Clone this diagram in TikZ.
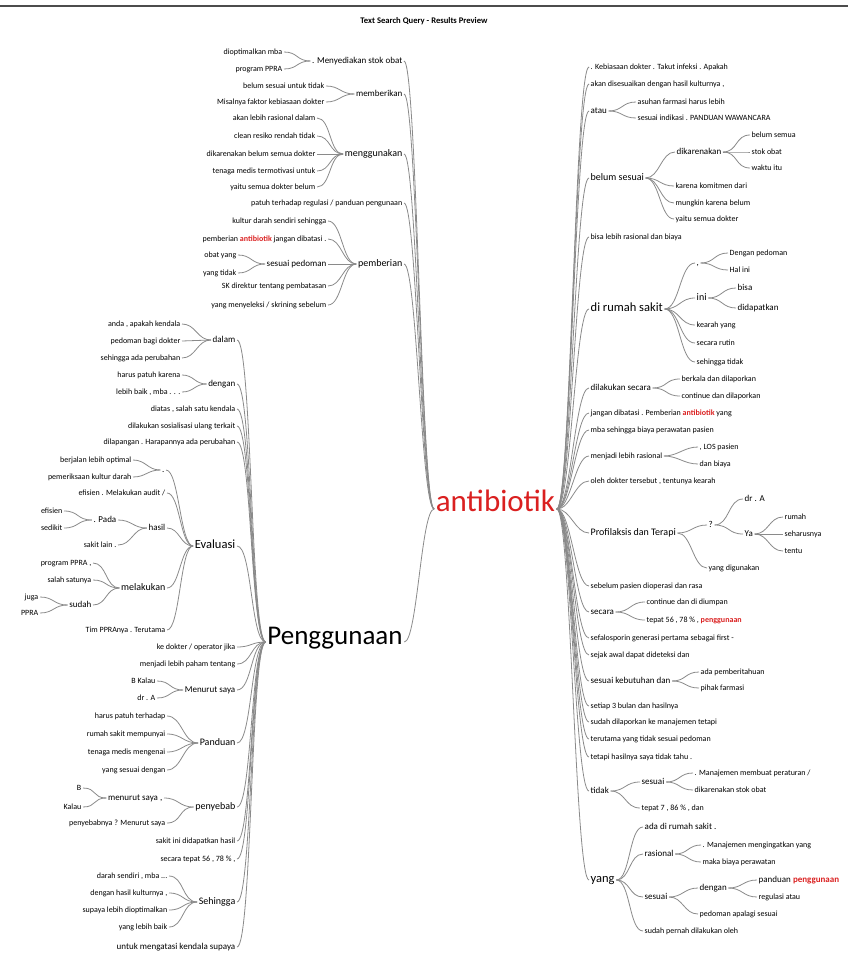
\documentclass[tikz,border=0pt]{standalone}
\usepackage{fontspec}
\setmainfont{Carlito}
\usetikzlibrary{calc}
\definecolor{hit}{RGB}{218,32,32}
\definecolor{twiggray}{RGB}{138,138,138}
\tikzset{
  lw/.style={anchor=mid east, inner xsep=1.5pt, inner ysep=0pt},
  rw/.style={anchor=mid west, inner xsep=1.5pt, inner ysep=0pt},
  w1/.style={font=\fontsize{8}{9}\selectfont},
  w2/.style={font=\fontsize{9}{10}\selectfont},
  w3/.style={font=\fontsize{10}{11}\selectfont},
  w4/.style={font=\fontsize{12.5}{14}\selectfont},
  twig/.style={draw=twiggray, line width=0.8pt},
}
\newcommand{\hit}[1]{\textcolor{hit}{\textbf{#1}}}
\newcommand{\branchL}[3]{\draw[twig] (#2.mid west) .. controls +(-#1,0) and +(#1,0) .. (#3.mid east);}
\newcommand{\branchR}[3]{\draw[twig] (#2.mid east) .. controls +(#1,0) and +(-#1,0) .. (#3.mid west);}

\begin{document}
\begin{tikzpicture}[x=1pt,y=-1pt]
		%%%%% START %%%%%
		\useasboundingbox (0,0) rectangle (848,957);
		\draw[black!70, line width=1.2pt] (0,6) -- (848,6);
		\node[font=\bfseries\fontsize{8.6}{10}\selectfont] (ttl) at (424,21) {Text Search Query - Results Preview};
		
		% roots
		\node[anchor=mid, inner sep=1.5pt, font=\fontsize{31}{34}\selectfont, text=hit] (abt) at (495.5,509) {antibiotik};
		\node[anchor=mid, inner sep=1.5pt, font=\fontsize{27}{30}\selectfont] (png) at (335,642) {Penggunaan};
		
		% left of antibiotik
		\node[lw,w2] (mst) at (404,61) {. Menyediakan stok obat};
		\node[lw,w1] (mst1) at (284,52) {dioptimalkan mba};
		\node[lw,w1] (mst2) at (284,69) {program PPRA};
		\node[lw,w2] (mbr) at (404,94) {memberikan};
		\node[lw,w1] (mbr1) at (326,86) {belum sesuai untuk tidak};
		\node[lw,w1] (mbr2) at (326,102) {Misalnya faktor kebiasaan dokter};
		\node[lw,w3] (mgn) at (404,154) {menggunakan};
		\node[lw,w1] (mgn1) at (317,118) {akan lebih rasional dalam};
		\node[lw,w1] (mgn2) at (317,136) {clean resiko rendah tidak};
		\node[lw,w1] (mgn3) at (317,154) {dikarenakan belum semua dokter};
		\node[lw,w1] (mgn4) at (317,171) {tenaga medis termotivasi untuk};
		\node[lw,w1] (mgn5) at (317,187) {yaitu semua dokter belum};
		\node[lw,w1] (pth) at (404,203) {patuh terhadap regulasi / panduan pengunaan};
		\node[lw,w3] (pmb) at (404,264) {pemberian};
		\node[lw,w1] (pmb1) at (328,221) {kultur darah sendiri sehingga};
		\node[lw,w1] (pmb2) at (328,239) {pemberian \hit{antibiotik} jangan dibatasi .};
		\node[lw,w2] (spd) at (328,264) {sesuai pedoman};
		\node[lw,w1] (spd1) at (238,255) {obat yang};
		\node[lw,w1] (spd2) at (238,273) {yang tidak};
		\node[lw,w1] (pmb4) at (328,286) {SK direktur tentang pembatasan};
		\node[lw,w1] (pmb5) at (328,305) {yang menyeleksi / skrining sebelum};
		
		\foreach \k in {mst,mbr,mgn,pth,pmb,png} {\branchL{13}{abt}{\k}}
		\foreach \k in {mst1,mst2} {\branchL{14}{mst}{\k}}
		\foreach \k in {mbr1,mbr2} {\branchL{14}{mbr}{\k}}
		\foreach \k in {mgn1,mgn2,mgn3,mgn4,mgn5} {\branchL{14}{mgn}{\k}}
		\foreach \k in {pmb1,pmb2,spd,pmb4,pmb5} {\branchL{14}{pmb}{\k}}
		\foreach \k in {spd1,spd2} {\branchL{14}{spd}{\k}}
		
		% left of Penggunaan
		\node[lw,w2] (dlm) at (237,340) {dalam};
		\node[lw,w1] (dlm1) at (182,324) {anda , apakah kendala};
		\node[lw,w1] (dlm2) at (182,341) {pedoman bagi dokter};
		\node[lw,w1] (dlm3) at (182,358) {sehingga ada perubahan};
		\node[lw,w2] (dgn) at (237,384) {dengan};
		\node[lw,w1] (dgn1) at (182,375) {harus patuh karena};
		\node[lw,w1] (dgn2) at (182,392) {lebih baik , mba . . .};
		\node[lw,w1] (dts) at (237,409) {diatas , salah satu kendala};
		\node[lw,w1] (dsu) at (237,426) {dilakukan sosialisasi ulang terkait};
		\node[lw,w1] (dlp) at (237,442) {dilapangan . Harapannya ada perubahan};
		\node[lw,w4] (evl) at (237,546) {Evaluasi};
		\node[lw,w2] (ev1) at (166,470) {.};
		\node[lw,w1] (ev1a) at (133,460) {berjalan lebih optimal};
		\node[lw,w1] (ev1b) at (133,477) {pemeriksaan kultur darah};
		\node[lw,w1] (ev2) at (167,493) {efisien . Melakukan audit /};
		\node[lw,w2] (hsl) at (167,528) {hasil};
		\node[lw,w2] (pda) at (118,520) {. Pada};
		\node[lw,w1] (pda1) at (64,511) {efisien};
		\node[lw,w1] (pda2) at (64,528) {sedikit};
		\node[lw,w1] (hsl2) at (118,545) {sakit lain .};
		\node[lw,w3] (mlk) at (167,588) {melakukan};
		\node[lw,w1] (mlk1) at (93,563) {program PPRA ,};
		\node[lw,w1] (mlk2) at (93,580) {salah satunya};
		\node[lw,w2] (sdh) at (93,605) {sudah};
		\node[lw,w1] (sdh1) at (40,597) {juga};
		\node[lw,w1] (sdh2) at (40,613) {PPRA};
		\node[lw,w1] (tim) at (167,630) {Tim PPRAnya . Terutama};
		\node[lw,w1] (kdk) at (237,647) {ke dokter / operator jika};
		\node[lw,w1] (mjd) at (237,664) {menjadi lebih paham tentang};
		\node[lw,w2] (mns) at (237,690) {Menurut saya};
		\node[lw,w1] (mns1) at (157,681) {B Kalau};
		\node[lw,w1] (mns2) at (157,698) {dr . A};
		\node[lw,w3] (pnd) at (237,743) {Panduan};
		\node[lw,w1] (pnd1) at (167,716) {harus patuh terhadap};
		\node[lw,w1] (pnd2) at (167,734) {rumah sakit mempunyai};
		\node[lw,w1] (pnd3) at (167,752) {tenaga medis mengenai};
		\node[lw,w1] (pnd4) at (167,770) {yang sesuai dengan};
		\node[lw,w3] (pyb) at (237,807) {penyebab};
		\node[lw,w2] (mrs) at (164,798) {menurut saya ,};
		\node[lw,w1] (mrs1) at (83,788) {B};
		\node[lw,w1] (mrs2) at (83,807) {Kalau};
		\node[lw,w1] (pyb2) at (167,823) {penyebabnya ? Menurut saya};
		\node[lw,w1] (sid) at (237,841) {sakit ini didapatkan hasil};
		\node[lw,w1] (stp) at (237,859) {secara tepat 56 , 78 \% ,};
		\node[lw,w3] (shg) at (237,902) {Sehingga};
		\node[lw,w1] (shg1) at (169,876) {darah sendiri , mba ...};
		\node[lw,w1] (shg2) at (169,893) {dengan hasil kulturnya ,};
		\node[lw,w1] (shg3) at (169,910) {supaya lebih dioptimalkan};
		\node[lw,w1] (shg4) at (169,927) {yang lebih baik};
		\node[lw,w2] (utk) at (237,947) {untuk mengatasi kendala supaya};
		
		\foreach \k in {dlm,dgn,dts,dsu,dlp,evl,kdk,mjd,mns,pnd,pyb,sid,stp,shg,utk} {\branchL{15}{png}{\k}}
		\foreach \k in {dlm1,dlm2,dlm3} {\branchL{14}{dlm}{\k}}
		\foreach \k in {dgn1,dgn2} {\branchL{12}{dgn}{\k}}
		\foreach \k in {ev1,ev2,hsl,mlk,tim} {\branchL{13}{evl}{\k}}
		\foreach \k in {ev1a,ev1b} {\branchL{13}{ev1}{\k}}
		\foreach \k in {pda,hsl2} {\branchL{14}{hsl}{\k}}
		\foreach \k in {pda1,pda2} {\branchL{15}{pda}{\k}}
		\foreach \k in {mlk1,mlk2,sdh} {\branchL{14}{mlk}{\k}}
		\foreach \k in {sdh1,sdh2} {\branchL{14}{sdh}{\k}}
		\foreach \k in {mns1,mns2} {\branchL{14}{mns}{\k}}
		\foreach \k in {pnd1,pnd2,pnd3,pnd4} {\branchL{15}{pnd}{\k}}
		\foreach \k in {mrs,pyb2} {\branchL{15}{pyb}{\k}}
		\foreach \k in {mrs1,mrs2} {\branchL{14}{mrs}{\k}}
		\foreach \k in {shg1,shg2,shg3,shg4} {\branchL{15}{shg}{\k}}
		
		% right of antibiotik
		\node[rw,w1] (kbs) at (589,67) {. Kebiasaan dokter . Takut infeksi . Apakah};
		\node[rw,w1] (akd) at (589,84) {akan disesuaikan dengan hasil kulturnya ,};
		\node[rw,w2] (ata) at (589,111) {atau};
		\node[rw,w1] (ata1) at (636,102) {asuhan farmasi harus lebih};
		\node[rw,w1] (ata2) at (636,118) {sesuai indikasi . PANDUAN WAWANCARA};
		\node[rw,w3] (bls) at (589,178) {belum sesuai};
		\node[rw,w2] (dkr) at (675,152) {dikarenakan};
		\node[rw,w1] (dkr1) at (750,135) {belum semua};
		\node[rw,w1] (dkr2) at (750,152) {stok obat};
		\node[rw,w1] (dkr3) at (750,168) {waktu itu};
		\node[rw,w1] (bls2) at (674,186) {karena komitmen dari};
		\node[rw,w1] (bls3) at (674,203) {mungkin karena belum};
		\node[rw,w1] (bls4) at (674,219) {yaitu semua dokter};
		\node[rw,w1] (blr) at (589,237) {bisa lebih rasional dan biaya};
		\node[rw,w4] (drs) at (589,309) {di rumah sakit};
		\node[rw,w2] (kom) at (695,263) {,};
		\node[rw,w1] (kom1) at (728,253) {Dengan pedoman};
		\node[rw,w1] (kom2) at (728,270) {Hal ini};
		\node[rw,w3] (ini) at (695,298) {ini};
		\node[rw,w2] (ini1) at (736,288) {bisa};
		\node[rw,w2] (ini2) at (736,308) {didapatkan};
		\node[rw,w1] (drs3) at (695,325) {kearah yang};
		\node[rw,w1] (drs4) at (695,343) {secara rutin};
		\node[rw,w1] (drs5) at (695,362) {sehingga tidak};
		\node[rw,w2] (dls) at (589,388) {dilakukan secara};
		\node[rw,w1] (dls1) at (680,379) {berkala dan dilaporkan};
		\node[rw,w1] (dls2) at (680,396) {continue dan dilaporkan};
		\node[rw,w1] (jdb) at (589,413) {jangan dibatasi . Pemberian \hit{antibiotik} yang};
		\node[rw,w1] (mbs) at (589,430) {mba sehingga biaya perawatan pasien};
		\node[rw,w1] (mlr) at (589,456) {menjadi lebih rasional};
		\node[rw,w1] (mlr1) at (698,447) {, LOS pasien};
		\node[rw,w1] (mlr2) at (698,464) {dan biaya};
		\node[rw,w1] (odt) at (589,481) {oleh dokter tersebut , tentunya kearah};
		\node[rw,w3] (pdt) at (589,533) {Profilaksis dan Terapi};
		\node[rw,w2] (qst) at (707,525) {?};
		\node[rw,w2] (dra) at (743,499) {dr . A};
		\node[rw,w2] (ya) at (743,534) {Ya};
		\node[rw,w1] (ya1) at (783,517) {rumah};
		\node[rw,w1] (ya2) at (783,534) {seharusnya};
		\node[rw,w1] (ya3) at (783,551) {tentu};
		\node[rw,w1] (ydg) at (707,568) {yang digunakan};
		\node[rw,w1] (sbp) at (589,586) {sebelum pasien dioperasi dan rasa};
		\node[rw,w2] (scr) at (589,612) {secara};
		\node[rw,w1] (scr1) at (645,602) {continue dan di diumpan};
		\node[rw,w1] (scr2) at (645,620) {tepat 56 , 78 \% , \hit{penggunaan}};
		\node[rw,w1] (sfl) at (589,638) {sefalosporin generasi pertama sebagai first -};
		\node[rw,w1] (sjk) at (589,655) {sejak awal dapat dideteksi dan};
		\node[rw,w2] (skd) at (589,681) {sesuai kebutuhan dan};
		\node[rw,w1] (skd1) at (699,672) {ada pemberitahuan};
		\node[rw,w1] (skd2) at (699,688) {pihak farmasi};
		\node[rw,w1] (stb) at (589,706) {setiap 3 bulan dan hasilnya};
		\node[rw,w1] (sdl) at (589,722) {sudah dilaporkan ke manajemen tetapi};
		\node[rw,w1] (trt) at (589,739) {terutama yang tidak sesuai pedoman};
		\node[rw,w1] (tht) at (589,757) {tetapi hasilnya saya tidak tahu .};
		\node[rw,w2] (tdk) at (589,791) {tidak};
		\node[rw,w2] (tss) at (640,782) {sesuai};
		\node[rw,w1] (tss1) at (693,773) {. Manajemen membuat peraturan /};
		\node[rw,w1] (tss2) at (693,790) {dikarenakan stok obat};
		\node[rw,w1] (tdk2) at (640,808) {tepat 7 , 86 \% , dan};
		\node[rw,w4] (yng) at (589,880) {yang};
		\node[rw,w2] (yng1) at (643,827) {ada di rumah sakit .};
		\node[rw,w2] (rsn) at (643,854) {rasional};
		\node[rw,w1] (rsn1) at (701,845) {. Manajemen mengingatkan yang};
		\node[rw,w1] (rsn2) at (701,862) {maka biaya perawatan};
		\node[rw,w2] (yss) at (643,897) {sesuai};
		\node[rw,w2] (ydn) at (698,888) {dengan};
		\node[rw,w2] (ydn1) at (757,880) {panduan \hit{penggunaan}};
		\node[rw,w1] (ydn2) at (757,897) {regulasi atau};
		\node[rw,w1] (yss2) at (698,914) {pedoman apalagi sesuai};
		\node[rw,w1] (yng4) at (643,931) {sudah pernah dilakukan oleh};
		
		\foreach \k in {kbs,akd,ata,bls,blr,drs,dls,jdb,mbs,mlr,odt,pdt,sbp,scr,sfl,sjk,skd,stb,sdl,trt,tht,tdk,yng} {\branchR{14}{abt}{\k}}
		\foreach \k in {ata1,ata2} {\branchR{14}{ata}{\k}}
		\foreach \k in {dkr,bls2,bls3,bls4} {\branchR{14}{bls}{\k}}
		\foreach \k in {dkr1,dkr2,dkr3} {\branchR{15}{dkr}{\k}}
		\foreach \k in {kom,ini,drs3,drs4,drs5} {\branchR{15}{drs}{\k}}
		\foreach \k in {kom1,kom2} {\branchR{14}{kom}{\k}}
		\foreach \k in {ini1,ini2} {\branchR{14}{ini}{\k}}
		\foreach \k in {dls1,dls2} {\branchR{15}{dls}{\k}}
		\foreach \k in {mlr1,mlr2} {\branchR{14}{mlr}{\k}}
		\foreach \k in {qst,ydg} {\branchR{14}{pdt}{\k}}
		\foreach \k in {dra,ya} {\branchR{15}{qst}{\k}}
		\foreach \k in {ya1,ya2,ya3} {\branchR{14}{ya}{\k}}
		\foreach \k in {scr1,scr2} {\branchR{15}{scr}{\k}}
		\foreach \k in {skd1,skd2} {\branchR{14}{skd}{\k}}
		\foreach \k in {tss,tdk2} {\branchR{15}{tdk}{\k}}
		\foreach \k in {tss1,tss2} {\branchR{14}{tss}{\k}}
		\foreach \k in {yng1,rsn,yss,yng4} {\branchR{14}{yng}{\k}}
		\foreach \k in {rsn1,rsn2} {\branchR{13}{rsn}{\k}}
		\foreach \k in {ydn,yss2} {\branchR{14}{yss}{\k}}
		\foreach \k in {ydn1,ydn2} {\branchR{14}{ydn}{\k}}
		%%%%% END %%%%%
\end{tikzpicture}
\end{document}
